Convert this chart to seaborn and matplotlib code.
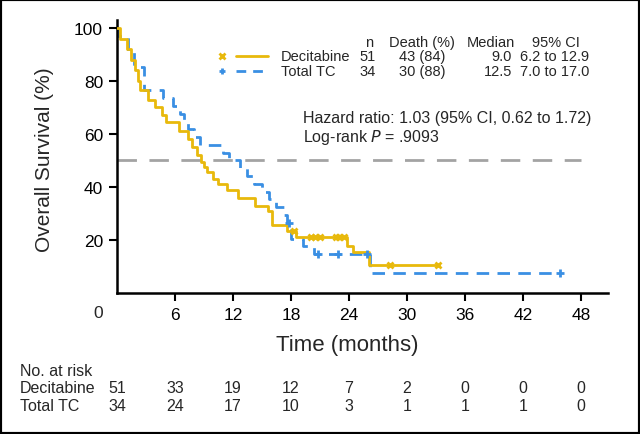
import numpy as np
import pandas as pd
import matplotlib
matplotlib.use("Agg")
import matplotlib.pyplot as plt
import seaborn as sns
from matplotlib.patches import Rectangle
from matplotlib.lines import Line2D

# ---------------- data ----------------
dec_times = [0.3, 1.0, 1.5, 1.9, 2.2, 2.4, 3.2, 3.9, 4.7, 5.1, 6.4, 7.3, 7.8, 8.3, 8.7,
             9.0, 9.3, 9.9, 10.4, 11.4, 12.5, 14.3, 15.6, 16.0, 17.6, 18.5, 23.8, 24.4, 26.1]
dec_surv = [96, 92, 88, 84, 80, 76.5, 73, 70, 67, 64.7, 61, 58, 55, 52, 49.5,
            47.5, 45.5, 43, 41, 39, 36, 33, 31, 25.7, 23.4, 21.1, 17.8, 15.3, 10.7]
dec_censor = [18.3, 20.1, 20.5, 21.0, 22.7, 23.0, 23.5, 28.2, 33.2]

tc_times = [0.1, 1.1, 1.8, 2.8, 4.8, 5.8, 6.5, 6.9, 7.3, 8.0, 8.6, 11.0, 11.6, 12.7, 13.5,
            14.2, 15.0, 15.7, 16.5, 17.3, 17.6, 18.0, 19.2, 20.4, 26.2]
tc_surv = [97.1, 91.2, 85.3, 76.5, 73.5, 70.6, 67.6, 64.7, 61.8, 58.8, 55.9, 52.9, 50.0, 47.1, 44.1,
           41.2, 38.2, 35.3, 32.4, 29.4, 26.5, 20.4, 17.6, 14.7, 7.4]
tc_censor = [17.8, 20.8, 22.9, 25.9, 45.8]

risk_times = [0, 6, 12, 18, 24, 30, 36, 42, 48]
risk_dec = [51, 33, 19, 12, 7, 2, 0, 0, 0]
risk_tc = [34, 24, 17, 10, 3, 1, 1, 1, 0]

groups = ["Decitabine", "Total TC"]
n_pat = ["51", "34"]
deaths = ["43 (84)", "30 (88)"]
medians = ["9.0", "12.5"]
cis = ["6.2 to 12.9", "7.0 to 17.0"]

x_ticks = [6, 12, 18, 24, 30, 36, 42, 48]
y_ticks = [20, 40, 60, 80, 100]

YELLOW = "#E8B90C"
BLUE = "#3A8FE3"
GRAY = "#A3A3A3"

sns.set_style("white")
plt.rcParams['font.family'] = ['Liberation Sans', 'DejaVu Sans']


def km_frame(times, surv, censor):
    t = [0.0] + list(times)
    s = [100.0] + list(surv)
    end = max(max(times), max(censor))
    t.append(end)
    s.append(s[-1])
    return pd.DataFrame({"t": t, "s": s})


def censor_frame(times, surv, censor):
    t = np.array([0.0] + list(times))
    s = np.array([100.0] + list(surv))
    idx = np.searchsorted(t, np.array(censor), side="right") - 1
    return pd.DataFrame({"t": censor, "s": s[idx]})


fig = plt.figure(figsize=(6.4, 4.35), dpi=100)
ax = fig.add_axes([117 / 640, 1 - 294 / 435, 491 / 640, 273 / 435])

dec_df = km_frame(dec_times, dec_surv, dec_censor)
tc_df = km_frame(tc_times, tc_surv, tc_censor)

ax.axhline(50, xmin=0, xmax=0.945, color=GRAY, lw=2.0, linestyle=(0, (7, 4.5)), zorder=1)

sns.lineplot(data=tc_df, x="t", y="s", drawstyle="steps-post", color=BLUE, lw=2.0,
             linestyle=(0, (4.5, 3)), estimator=None, ax=ax, zorder=2)
sns.lineplot(data=dec_df, x="t", y="s", drawstyle="steps-post", color=YELLOW, lw=2.0,
             estimator=None, ax=ax, zorder=3)

dc = censor_frame(dec_times, dec_surv, dec_censor)
tcc = censor_frame(tc_times, tc_surv, tc_censor)
ax.plot(tcc["t"], tcc["s"], linestyle="none", marker="+", ms=6, mew=2, color=BLUE, zorder=4)
ax.plot(dc["t"], dc["s"], linestyle="none", marker="x", ms=5, mew=2, color=YELLOW, zorder=5)

ax.set_xlim(0, 50.8)
ax.set_ylim(0, 103)
ax.set_xticks(x_ticks)
ax.set_xticklabels([str(v) for v in x_ticks])
ax.set_yticks(y_ticks)
ax.set_yticklabels([str(v) for v in y_ticks])
for sp in ["top", "right"]:
    ax.spines[sp].set_visible(False)
for sp in ["left", "bottom"]:
    ax.spines[sp].set_linewidth(1.8)
    ax.spines[sp].set_color("black")
ax.tick_params(axis="both", direction="out", length=6, width=1.5, labelsize=12.5, pad=4,
               colors="black", left=True, bottom=True)
ax.set_xlabel("")
ax.set_ylabel("")

# origin label
fig.text(98 / 640, 1 - 313 / 435, "0", ha="center", va="center", fontsize=12.5)

fig.text(347 / 640, 1 - 346 / 435, "Time (months)", ha="center", va="center", fontsize=16)
fig.text(45 / 640, 1 - 160 / 435, "Overall Survival (%)", ha="center", va="center",
         rotation=90, fontsize=15)

# legend table
def axx(px):
    return (px - 117) / 491


def axy(py):
    return (294 - py) / 273


lt = dict(transform=ax.transAxes, fontsize=10.5, va="center")
hy = axy(43)
ax.text(axx(369), hy, "n", ha="center", **lt)
ax.text(axx(422), hy, "Death (%)", ha="center", **lt)
ax.text(axx(491), hy, "Median", ha="center", **lt)
ax.text(axx(556), hy, "95% CI", ha="center", **lt)
row_y = [axy(57), axy(72)]
colors = [YELLOW, BLUE]
markers = ["x", "+"]
styles = ["-", (0, (3.5, 2.5))]
for i in range(2):
    y = row_y[i]
    ax.add_line(Line2D([axx(222)], [y], transform=ax.transAxes, marker=markers[i], ms=5,
                       mew=2, color=colors[i], linestyle="none", clip_on=False))
    ax.add_line(Line2D([axx(236), axx(268)], [y, y], transform=ax.transAxes, lw=2.0,
                       linestyle=styles[i], color=colors[i], clip_on=False))
    ax.text(axx(281), y, groups[i], ha="left", **lt)
    ax.text(axx(368), y, n_pat[i], ha="center", **lt)
    ax.text(axx(422), y, deaths[i], ha="center", **lt)
    ax.text(axx(512), y, medians[i], ha="right", **lt)
    ax.text(axx(555), y, cis[i], ha="center", **lt)

ax.text(axx(303), axy(119), "Hazard ratio: 1.03 (95% CI, 0.62 to 1.72)", ha="left",
        va="center", transform=ax.transAxes, fontsize=11.5)
ax.text(axx(303), axy(138), r"Log-rank $\it{P}$ = .9093", ha="left",
        va="center", transform=ax.transAxes, fontsize=11.5)

# risk table
trans = matplotlib.transforms.blended_transform_factory(ax.transData, fig.transFigure)
fig.text(20 / 640, 1 - 372 / 435, "No. at risk", ha="left", va="center", fontsize=11.5)
fig.text(20 / 640, 1 - 389 / 435, "Decitabine", ha="left", va="center", fontsize=11.5)
fig.text(20 / 640, 1 - 407 / 435, "Total TC", ha="left", va="center", fontsize=11.5)
for t, a, b in zip(risk_times, risk_dec, risk_tc):
    fig.text(t, 1 - 389 / 435, str(a), ha="center", va="center", fontsize=11.5, transform=trans)
    fig.text(t, 1 - 407 / 435, str(b), ha="center", va="center", fontsize=11.5, transform=trans)

fig.patches.append(Rectangle((0, 0), 1, 1, transform=fig.transFigure, fill=False,
                             lw=3, edgecolor="black"))

fig.savefig("out.png", dpi=100)
